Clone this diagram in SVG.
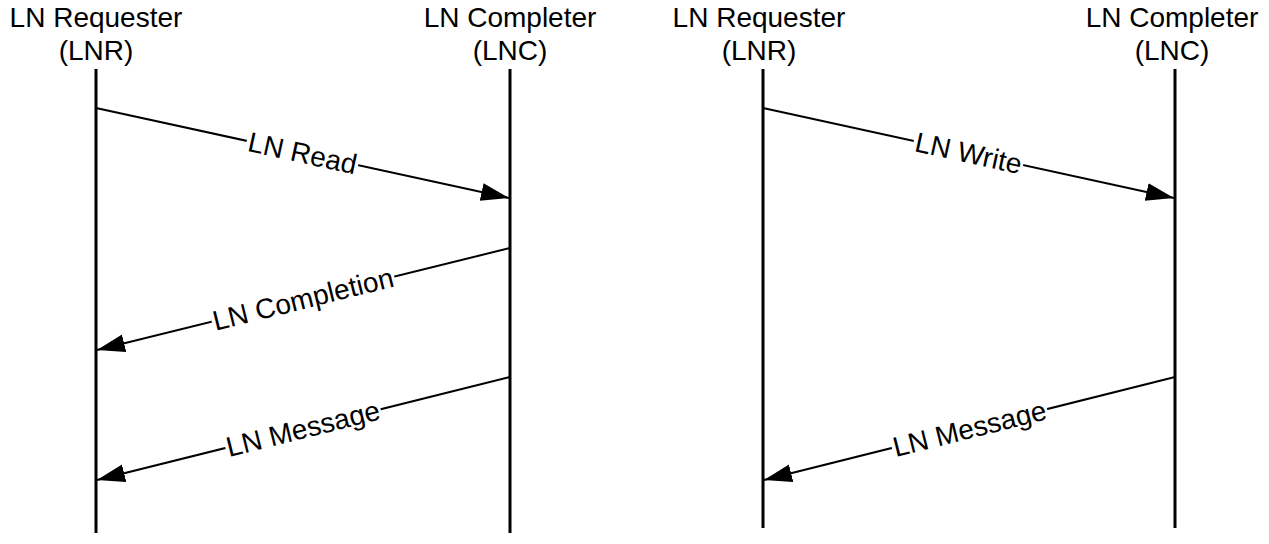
<svg xmlns="http://www.w3.org/2000/svg" width="1269" height="544" viewBox="0 0 1269 544">
<style>
.hdr{font-family:"Liberation Sans",Arial,sans-serif;font-size:28px;fill:#000;text-anchor:middle}
.life{stroke:#000;stroke-width:3;fill:none}
.msg{stroke:#000;stroke-width:2;fill:none;marker-end:url(#ah)}
.lbl{font-family:"Liberation Sans",Arial,sans-serif;font-size:28px;fill:#000;text-anchor:middle}
.gap{fill:#fff}
</style>
<defs>
<marker id="ah" markerUnits="userSpaceOnUse" markerWidth="30" markerHeight="20" refX="28" refY="9" orient="auto">
<path d="M0,0 L28,9 L0,18 Z" fill="#000"/>
</marker>
</defs>
<rect width="1269" height="544" fill="#fff"/>
<g id="lnr1">
<text class="hdr" x="96" y="27">LN Requester</text>
<text class="hdr" x="96" y="60">(LNR)</text>
<line class="life" x1="96" y1="69" x2="96" y2="533"/>
</g>
<g id="lnc1">
<text class="hdr" x="510" y="27">LN Completer</text>
<text class="hdr" x="510" y="60">(LNC)</text>
<line class="life" x1="510" y1="69" x2="510" y2="533"/>
</g>
<g id="lnr2">
<text class="hdr" x="759" y="27">LN Requester</text>
<text class="hdr" x="759" y="60">(LNR)</text>
<line class="life" x1="763" y1="69" x2="763" y2="528"/>
</g>
<g id="lnc2">
<text class="hdr" x="1172" y="27">LN Completer</text>
<text class="hdr" x="1172" y="60">(LNC)</text>
<line class="life" x1="1175" y1="69" x2="1175" y2="528"/>
</g>
<g id="connectors">
<line class="msg" x1="96" y1="108" x2="509" y2="198"/>
<g transform="translate(302.5,153) rotate(12.3)"><rect class="gap" x="-57" y="-6" width="114" height="12"/><text class="lbl" dy="0.35em">LN Read</text></g>
<line class="msg" x1="510" y1="248" x2="97" y2="350"/>
<g transform="translate(303,299) rotate(-13.9)"><rect class="gap" x="-94" y="-6" width="188" height="12"/><text class="lbl" dy="0.35em">LN Completion</text></g>
<line class="msg" x1="510" y1="377" x2="97" y2="480"/>
<g transform="translate(303,428.5) rotate(-14)"><rect class="gap" x="-80" y="-6" width="160" height="12"/><text class="lbl" dy="0.35em">LN Message</text></g>
<line class="msg" x1="763" y1="108" x2="1174" y2="198"/>
<g transform="translate(968.5,153) rotate(12.35)"><rect class="gap" x="-56" y="-6" width="112" height="12"/><text class="lbl" dy="0.35em">LN Write</text></g>
<line class="msg" x1="1175" y1="377" x2="764" y2="480"/>
<g transform="translate(969.5,428.5) rotate(-14.07)"><rect class="gap" x="-80" y="-6" width="160" height="12"/><text class="lbl" dy="0.35em">LN Message</text></g>
</g>
</svg>
